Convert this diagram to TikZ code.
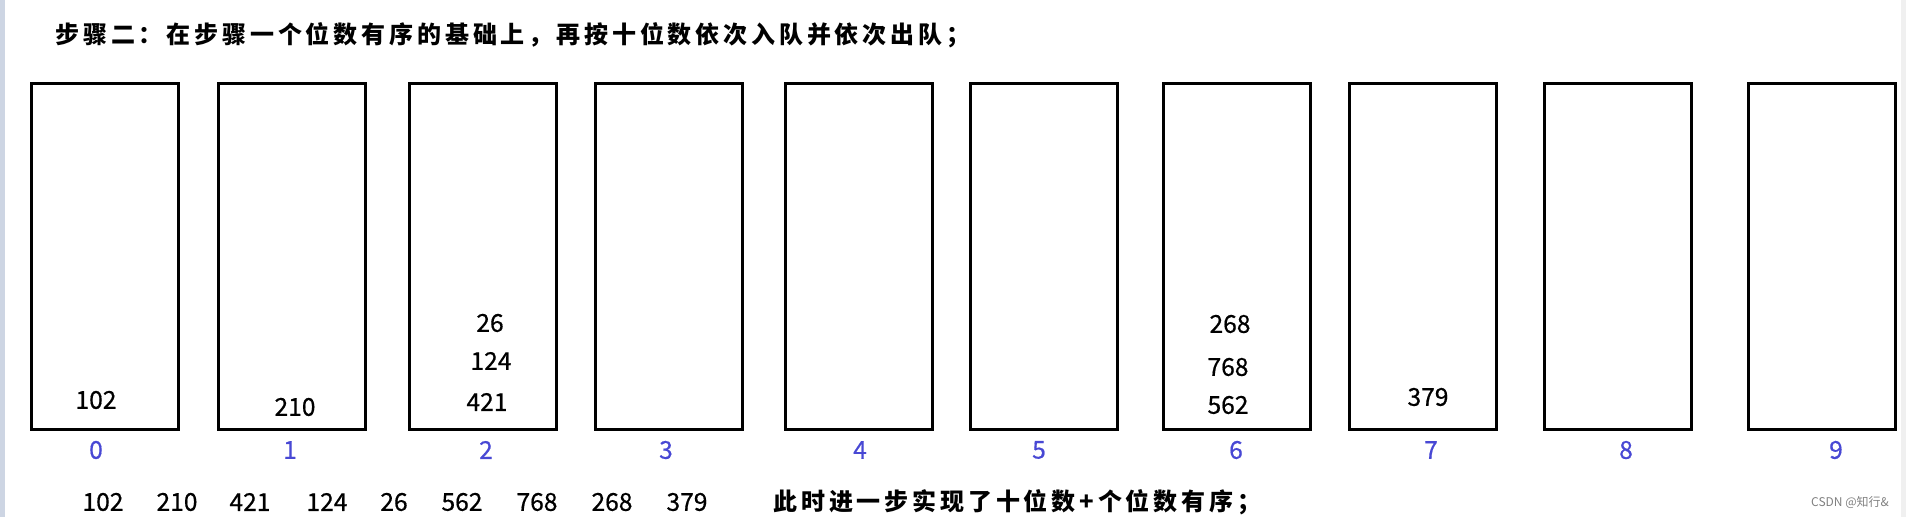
\documentclass[tikz,border=0pt]{standalone}
\usepackage{fontspec}
\usepackage{tikz}
\usetikzlibrary{positioning}
\newfontfamily\cjk[LetterSpace=16]{Noto Sans CJK SC}
\newfontfamily\numfont[FakeBold=0.6]{Noto Sans CJK SC}
\definecolor{idxblue}{RGB}{72,72,212}
\definecolor{sidegray}{HTML}{CDD5E3}
\tikzset{
  bucket/.style={draw, line width=1.5pt, minimum width=73.5pt, minimum height=173pt, inner sep=0pt},
  val/.style={font=\numfont\fontsize{12.3}{14}\selectfont, inner sep=0pt},
  idx/.style={val, text=idxblue},
  caption/.style={font=\cjk\bfseries\fontsize{12}{14}\selectfont, anchor=west, inner sep=0pt}
}

\begin{document}
\begin{tikzpicture}[x=0.5pt,y=-0.5pt]
	\useasboundingbox (0,0) rectangle (1906,517);
	\fill[sidegray] (0,0) rectangle (5,517);
	\fill[gray!12] (1901,0) rectangle (1906,517);
	% title
	\node[caption] (title) at (55,35) {步骤二：在步骤一个位数有序的基础上，再按十位数依次入队并依次出队；};
	% the ten buckets
	\node[bucket] (b0) at (105,256.5) {};
	\node[bucket] (b1) at (292,256.5) {};
	\node[bucket] (b2) at (483,256.5) {};
	\node[bucket] (b3) at (669,256.5) {};
	\node[bucket] (b4) at (859,256.5) {};
	\node[bucket] (b5) at (1044,256.5) {};
	\node[bucket] (b6) at (1237,256.5) {};
	\node[bucket] (b7) at (1423,256.5) {};
	\node[bucket] (b8) at (1618,256.5) {};
	\node[bucket] (b9) at (1822,256.5) {};
	% bucket numbers
	\node[idx] (n0) at (96,450) {0};
	\node[idx] (n1) at (290,450) {1};
	\node[idx] (n2) at (486,450) {2};
	\node[idx] (n3) at (666,450) {3};
	\node[idx] (n4) at (860,450) {4};
	\node[idx] (n5) at (1039,450) {5};
	\node[idx] (n6) at (1236,450) {6};
	\node[idx] (n7) at (1431,450) {7};
	\node[idx] (n8) at (1626,450) {8};
	\node[idx] (n9) at (1836,450) {9};
	% contents
	\node[val] (b0a) at (96,400) {102};
	\node[val] (b1a) at (295,407) {210};
	\node[val] (b2a) at (487,402) {421};
	\node[val] (b2b) at (491,361) {124};
	\node[val] (b2c) at (490,323) {26};
	\node[val] (b6a) at (1228,405) {562};
	\node[val] (b6b) at (1228,367) {768};
	\node[val] (b6c) at (1230,324) {268};
	\node[val] (b7a) at (1428,397) {379};
	% dequeued order
	\node[val] (o1) at (103,502) {102};
	\node[val] (o2) at (177,502) {210};
	\node[val] (o3) at (250,502) {421};
	\node[val] (o4) at (327,502) {124};
	\node[val] (o5) at (394,502) {26};
	\node[val] (o6) at (462,502) {562};
	\node[val] (o7) at (537,502) {768};
	\node[val] (o8) at (612,502) {268};
	\node[val] (o9) at (687,502) {379};
	\node[caption] (note) at (773,502) {此时进一步实现了十位数+个位数有序；};
	\node[font=\fontsize{6}{7}\selectfont\fontspec{Noto Sans CJK SC}, text=gray, inner sep=0pt] (mark) at (1850,502) {CSDN @知行\&};
\end{tikzpicture}
\end{document}
